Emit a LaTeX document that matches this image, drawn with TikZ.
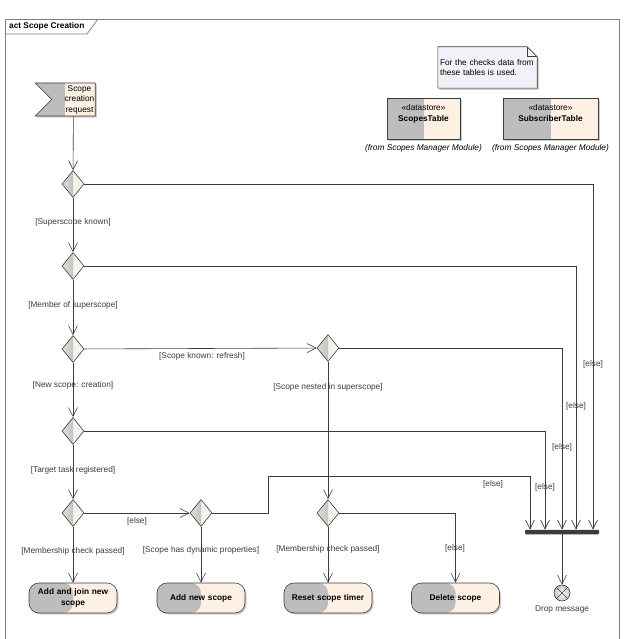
\documentclass[tikz,border=0pt]{standalone}
\usepackage{fontspec}
\setmainfont{Liberation Sans}
\usetikzlibrary{positioning, calc, shapes.geometric, shapes.symbols, arrows.meta, shadows}
\definecolor{lineC}{HTML}{3C3C3C}
\definecolor{frameC}{HTML}{808080}
\definecolor{halfgray}{HTML}{BDBDBD}
\definecolor{cream}{HTML}{FCF1E2}
\definecolor{notefill}{HTML}{F1F1F7}
\definecolor{diamR}{HTML}{F6F2EA}
\tikzstyle{Flow} = [draw=lineC, line width=0.6pt,
-{Straight Barb[length=9pt, width=9pt]}]
\tikzstyle{Half} = [fill=cream, draw=lineC, line width=0.6pt,
path picture={\fill[halfgray] (path picture bounding box.south west)
rectangle (path picture bounding box.north);},
drop shadow={shadow xshift=1.6pt, shadow yshift=-1.6pt, fill=gray!55, opacity=0.7}]
\tikzstyle{Action} = [Half, rectangle, rounded corners=10pt, minimum width=88pt,
minimum height=30pt, text width=86pt, inner xsep=1pt, align=center, font=\fontsize{8.3}{10.5}\selectfont\bfseries]
\tikzstyle{Decision} = [diamond, draw=lineC, line width=0.6pt, fill=diamR,
minimum width=22pt, minimum height=27pt, inner sep=0pt,
path picture={\shade[left color=gray!25, right color=gray!70]
(path picture bounding box.south west) rectangle (path picture bounding box.north);}]
\tikzstyle{Store} = [Half, rectangle, minimum height=41pt, align=center, inner sep=2pt]
\tikzstyle{Guard} = [text=lineC, inner sep=1pt]

\begin{document}
\begin{tikzpicture}[x=1pt, y=-1pt, font=\fontsize{8.3}{10.5}\selectfont, node distance=3pt]
    \useasboundingbox (0,0) rectangle (624,639);
    \draw[draw=frameC, line width=0.8pt] (5,639) -- (5,19) -- (619,19) -- (619,639);
    \node[anchor=west, font=\fontsize{8.3}{10}\selectfont\bfseries, inner sep=0pt] (title) at (9,26.5) {act Scope Creation};
    \draw[draw=frameC, line width=0.8pt] (5,34) -- (87,34) -- (98,19);
    \node[text width=91pt, minimum height=41pt, inner xsep=4pt, align=left] (note) at (487.5,67.5) {};
    \draw[fill=notefill, draw=lineC, line width=0.6pt, drop shadow={shadow xshift=1.6pt, shadow yshift=-1.6pt, fill=gray!55, opacity=0.7}] (note.north west) -- ([xshift=-10pt]note.north east) -- ([yshift=-10pt]note.north east) -- (note.south east) -- (note.south west) -- cycle;
    \draw[draw=lineC, line width=0.6pt] ([xshift=-10pt]note.north east) -- ([xshift=-10pt, yshift=-10pt]note.north east) -- ([yshift=-10pt]note.north east);
    \node[text width=95pt, inner xsep=2pt, align=left] (notetext) at (note) {For the checks data from\\these tables is used.};
    \node[Store, minimum width=73pt] (st1) at (423.5,118.5) {«datastore»\\\textbf{ScopesTable}\\[1pt]\mbox{}};
    \node[Store, minimum width=95pt] (st2) at (550.5,118.5) {«datastore»\\\textbf{SubscriberTable}\\[1pt]\mbox{}};
    \node[below=2pt of st1, font=\fontsize{8.3}{10}\selectfont\itshape] (from1) {(from Scopes Manager Module)};
    \node[below=2pt of st2, font=\fontsize{8.3}{10}\selectfont\itshape] (from2) {(from Scopes Manager Module)};
    \node[Half, signal, signal from=west, signal to=nowhere, minimum width=57pt, minimum height=33pt, align=center, inner sep=1pt] (start) at (73.5,99.5) {\hspace*{12pt}Scope\\\hspace*{12pt}creation\\\hspace*{12pt}request};
    \node[Decision] (d1) at (73,184) {};
    \node[Decision] (d2) at (73,266) {};
    \node[Decision] (d3) at (73,349) {};
    \node[Decision] (d4) at (73,431) {};
    \node[Decision] (d5) at (73,513) {};
    \node[Decision] (d6) at (201,513) {};
    \node[Decision] (d7) at (328,348) {};
    \node[Decision] (d8) at (328,513) {};
    \node[Action] (a1) at (73,598) {Add and join new\\scope};
    \node[Action] (a2) at (201,598) {Add new scope};
    \node[Action] (a3) at (328,598) {Reset scope timer};
    \node[Action] (a4) at (455.5,598) {Delete scope};
    \node[fill=lineC, minimum width=74pt, minimum height=4.5pt, inner sep=0pt, rounded corners=1pt] (join) at (562,532) {};
    \node[circle, draw=lineC, line width=0.6pt, minimum size=16pt, inner sep=0pt, inner color=white, outer color=gray!45] (final) at (562,593) {};
    \draw[draw=lineC, line width=0.6pt] (final.north west) -- (final.south east) (final.north east) -- (final.south west);
    \node[below=1pt of final, text=lineC] (drop) {Drop message};
    \coordinate (k1) at (268,476);
    \draw[Flow] (start) -- (d1);
    \draw[Flow] (d1) -- (d2);
    \draw[Flow] (d2) -- (d3);
    \draw[Flow] (d3) -- (d4);
    \draw[Flow] (d4) -- (d5);
    \draw[Flow] (d5) -- (a1);
    \draw[Flow] (d5) -- (d6);
    \draw[Flow] (d6) -- (a2);
    \draw[Flow] (d3) -- (d7);
    \draw[Flow] (d7) -- (d8);
    \draw[Flow] (d8) -- (a3);
    \draw[Flow] (d8.east) -| (a4);
    \draw[Flow] (d6.east) -| (k1) -| ([xshift=-32pt]join.north);
    \draw[Flow] (d4.east) -| ([xshift=-17pt]join.north);
    \draw[Flow] (d7.east) -| (join.north);
    \draw[Flow] (d2.east) -| ([xshift=14pt]join.north);
    \draw[Flow] (d1.east) -| ([xshift=31pt]join.north);
    \draw[Flow] (join) -- (final);
    \node[Guard] (g1) at (73,222) {[Superscope known]};
    \node[Guard] (g2) at (73,305) {[Member of superscope]};
    \node[Guard] (g3) at (73,385) {[New scope: creation]};
    \node[Guard] (g4) at (73,470) {[Target task registered]};
    \node[Guard] (g5) at (73,551) {[Membership check passed]};
    \node[Guard] (g6) at (137,521) {[else]};
    \node[Guard] (g7) at (201,550) {[Scope has dynamic properties]};
    \node[Guard] (g8) at (202,356) {[Scope known: refresh]};
    \node[Guard] (g9) at (328,387) {[Scope nested in superscope]};
    \node[Guard] (g10) at (328,549) {[Membership check passed]};
    \node[Guard] (g11) at (455,548) {[else]};
    \node[Guard] (g12) at (593,364) {[else]};
    \node[Guard] (g13) at (576,406) {[else]};
    \node[Guard] (g14) at (562,447) {[else]};
    \node[Guard] (g15) at (545,487) {[else]};
    \node[Guard] (g16) at (493,484) {[else]};
\end{tikzpicture}
\end{document}
